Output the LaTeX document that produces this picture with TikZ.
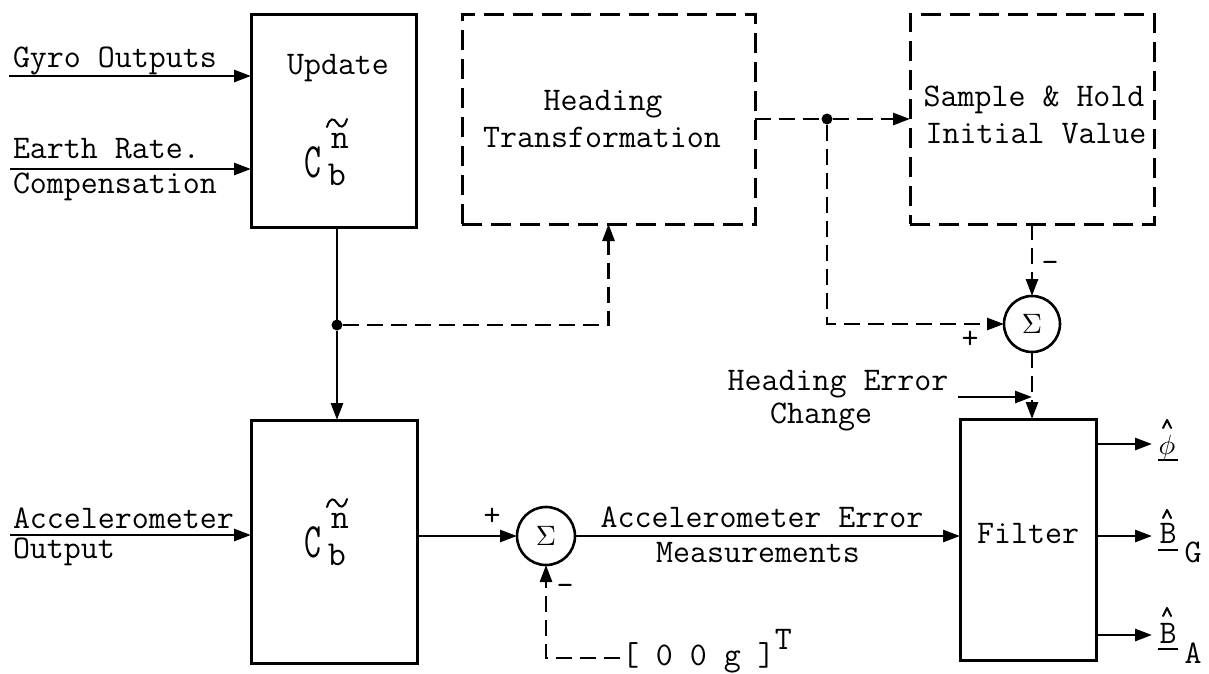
\documentclass[tikz,border=0pt]{standalone}
\usepackage{fontspec}
\usetikzlibrary{arrows.meta}
\begin{document}
\begin{tikzpicture}[x=1pt,y=-1pt,
  every node/.style={inner sep=0pt, outer sep=0pt},
  txt/.style={font=\fontsize{33}{36}\selectfont\ttfamily, text=black},
  big/.style={font=\fontsize{35}{36}\selectfont\ttfamily},
  blk/.style={draw, line width=3pt, rectangle},
  dblk/.style={blk, dash pattern=on 20pt off 9pt},
  sumc/.style={draw, circle, line width=2.6pt, minimum size=56pt},
  conn/.style={line width=2.8pt},
  dconn/.style={conn, dash pattern=on 16pt off 8pt},
  arr/.style={-{Triangle[length=17pt,width=12pt]}},
  jdot/.style={circle, fill, minimum size=11pt},
  thin/.style={line width=2pt, line cap=round, line join=round},
]
\useasboundingbox (0,0) rectangle (1209,673);

% blocks
\node[blk, minimum width=165pt, minimum height=213pt] (upd) at (333.5,120.5) {};
\node[dblk, minimum width=293pt, minimum height=210pt] (ht) at (608.5,119) {};
\node[dblk, minimum width=244pt, minimum height=210pt] (sh) at (1032,119) {};
\node[sumc] (s1) at (1032,324) {\scalebox{2.8}{$\Sigma$}};
\node[blk, minimum width=136pt, minimum height=241pt] (flt) at (1028,539.5) {};
\node[blk, minimum width=166pt, minimum height=243pt] (low) at (334,541.5) {};
\node[sumc, minimum size=58pt] (s2) at (546,536) {\scalebox{2.8}{$\Sigma$}};

% texts in blocks
\node[txt, anchor=base] (updt) at (338,74) {Update};
\node[anchor=base, font=\fontsize{33}{33}\selectfont\ttfamily] (c1) at (313,177) {\scalebox{1}[1.5]{C}};
\node[big, anchor=base] (n1) at (340,148) {n};
\node[big, anchor=base] (b1) at (337,185) {b};
\draw[thin] (327,127) .. controls (330,117) and (334,118) .. (337,123) .. controls (340,128) and (344,129) .. (347,119);

\node[anchor=base, font=\fontsize{33}{33}\selectfont\ttfamily] (c2) at (313,557) {\scalebox{1}[1.5]{C}};
\node[big, anchor=base] (n2) at (340,528) {n};
\node[big, anchor=base] (b2) at (337,565) {b};
\draw[thin] (327,507) .. controls (330,497) and (334,498) .. (337,503) .. controls (340,508) and (344,509) .. (347,499);

\node[txt, anchor=base] (ht1) at (603,110) {Heading};
\node[txt, anchor=base] (ht2) at (602,147) {Transformation};
\node[txt, anchor=base] (sh1) at (1034,106) {Sample \& Hold};
\node[txt, anchor=base] (sh2) at (1036,143) {Initial Value};
\node[txt, anchor=base] (fl) at (1028,543) {Filter};

% input labels
\node[txt, anchor=base west] (gy) at (13,67) {Gyro Outputs};
\node[txt, anchor=base west] (er) at (13,158) {Earth Rate.};
\node[txt, anchor=base west] (cp) at (13,193) {Compensation};
\node[txt, anchor=base west] (ac) at (13,528) {Accelerometer};
\node[txt, anchor=base west] (op) at (13,558) {Output};

% other labels
\node[txt, anchor=base] (he1) at (838,390) {Heading Error};
\node[txt, anchor=base] (he2) at (821,423) {Change};
\node[txt, anchor=base] (ae1) at (762,527) {Accelerometer Error};
\node[txt, anchor=base] (ae2) at (758,562) {Measurements};
\node[txt, anchor=base west] (zg) at (622,665) {[ 0 0 g ]\raisebox{16pt}{T}};

\node[txt] (p1) at (970,340) {+};
\node[txt] (m1) at (1050,267) {-};
\node[txt] (p2) at (492,517) {+};
\node[txt] (m2) at (565,590) {-};

% output labels
\node[anchor=base] (phi) at (1167,454) {\scalebox{2.8}{$\phi$}};
\draw[thin] (1163,428) -- (1167,420) -- (1171,428);
\draw[line width=2pt] (1158,460) -- (1178,460);
\node[txt, anchor=base] (bg) at (1168,543) {B};
\draw[thin] (1163,518) -- (1167,510) -- (1171,518);
\draw[line width=2pt] (1158,550) -- (1178,550);
\node[txt, anchor=base] (gg) at (1193,562) {G};
\node[txt, anchor=base] (ba) at (1168,643) {B};
\draw[thin] (1163,616) -- (1167,608) -- (1171,616);
\draw[line width=2pt] (1158,649) -- (1178,649);
\node[txt, anchor=base] (aa) at (1193,663) {A};

% junctions
\node[jdot] (j1) at (337,325) {};
\node[jdot] (j2) at (827,119) {};

% coordinates for free ends
\coordinate (gin) at (9,76);
\coordinate (ein) at (10,169);
\coordinate (ain) at (10,535);
\coordinate (hein) at (958,397);
\coordinate (zc) at (620,658);
\coordinate (o1) at (1152,444);
\coordinate (o2) at (1152,536);
\coordinate (o3) at (1152,635);

% connectors
\draw[conn,arr] (gin) -- (gin -| upd.west);
\draw[conn,arr] (ein) -- (ein -| upd.west);
\draw[conn,arr] (ain) -- (ain -| low.west);
\draw[conn] (j1 |- upd.south) -- (j1);
\draw[conn,arr] (j1) -- (j1 |- low.north);
\draw[dconn,arr] (j1) -- (j1 -| ht.south) -- (ht.south);
\draw[dconn] (ht.east) -- (j2);
\draw[dconn,arr] (j2) -- (sh.west);
\draw[dconn,arr] (j2) -- (j2 |- s1.west) -- (s1.west);
\draw[dconn,arr] (sh.south) -- (s1.north);
\draw[dconn,arr] (s1.south) -- (s1.south |- flt.north);
\draw[conn,arr] (hein) -- (hein -| s1.south);
\draw[conn,arr] (s2.west -| low.east) -- (s2.west);
\draw[conn,arr] (s2.east) -- (s2.east -| flt.west);
\draw[dconn,arr] (zc) -- (zc -| s2.south) -- (s2.south);
\draw[conn,arr] (o1 -| flt.east) -- (o1);
\draw[conn,arr] (o2 -| flt.east) -- (o2);
\draw[conn,arr] (o3 -| flt.east) -- (o3);
\end{tikzpicture}
\end{document}
